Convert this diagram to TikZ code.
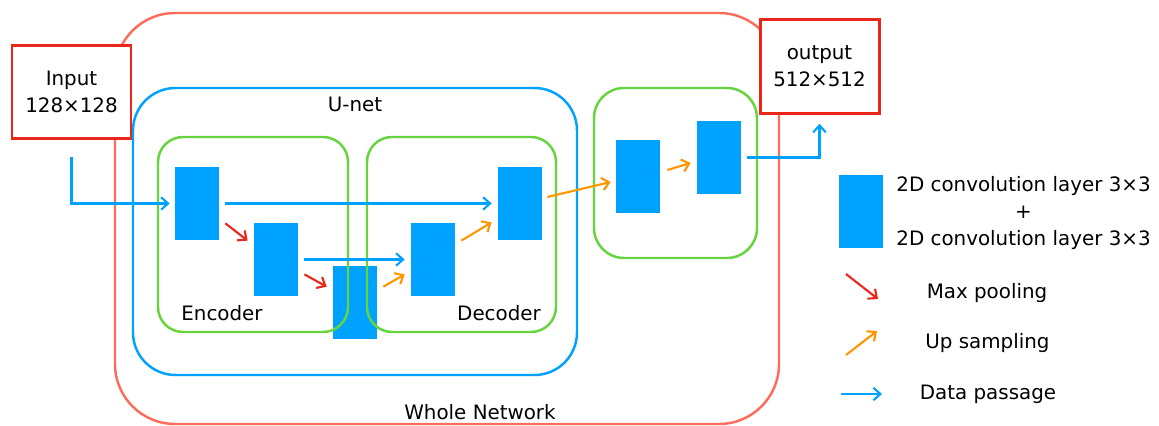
\documentclass[tikz,border=0pt]{standalone}
\usepackage{fontspec}
\setmainfont{DejaVu Sans}
\usetikzlibrary{arrows.meta,positioning,calc}
\definecolor{convblue}{RGB}{0,162,255}
\definecolor{netsalmon}{RGB}{255,108,92}
\definecolor{ioredc}{RGB}{234,38,26}
\definecolor{partgreen}{RGB}{102,212,60}
\definecolor{uporange}{RGB}{255,150,0}
\tikzset{
netwhole/.style={rectangle,rounded corners=1.2cm,draw=netsalmon,line width=1.4pt,minimum width=13.28cm,minimum height=8.22cm},
netunet/.style={rectangle,rounded corners=0.85cm,draw=convblue,line width=1.4pt,minimum width=8.88cm,minimum height=5.74cm},
netpart/.style={rectangle,rounded corners=0.5cm,draw=partgreen,line width=1.4pt},
iobox/.style={rectangle,draw=ioredc,fill=white,line width=1.7pt,align=center,minimum width=2.38cm,minimum height=1.87cm},
convblock/.style={rectangle,fill=convblue,inner sep=0pt,minimum width=0.88cm,minimum height=1.46cm},
netlabel/.style={inner sep=1pt,align=center},
dataarr/.style={-{Straight Barb[length=1.4mm,width=2.5mm]},draw=convblue,line width=1.2pt},
poolarr/.style={-{Straight Barb[length=1.4mm,width=2.5mm]},draw=ioredc,line width=1.2pt},
uparr/.style={-{Straight Barb[length=1.4mm,width=2.5mm]},draw=uporange,line width=1.2pt}
}

\begin{document}
\begin{tikzpicture}[
x=1cm,
y=1cm,
every node/.style={font=\fontsize{11.3}{15.3}\selectfont}
]
\useasboundingbox (0,0) rectangle (23.18,-8.52);
% containers
\node[netwhole] (whole) at (8.94,-4.37) {};
\node[netlabel] (wholelbl) at (9.60,-8.24) {Whole Network};
\node[netunet] (unet) at (7.10,-4.63) {};
\node[netlabel] (unetlbl) at (7.10,-2.08) {U-net};
% conv blocks
\node[convblock] (e1) at (3.94,-4.07) {};
\node[convblock] (e2) at (5.52,-5.19) {};
\node[convblock] (bn) at (7.10,-6.05) {};
\node[convblock] (d1) at (8.66,-5.19) {};
\node[convblock] (d2) at (10.40,-4.07) {};
\node[convblock] (o1) at (12.76,-3.53) {};
\node[convblock] (o2) at (14.38,-3.15) {};
% encoder / decoder / last stage
\node[netpart,minimum width=3.80cm,minimum height=3.90cm] (encoder) at (5.06,-4.69) {};
\node[netpart,minimum width=3.78cm,minimum height=3.90cm] (decoder) at (9.23,-4.69) {};
\node[netpart,rounded corners=0.6cm,minimum width=3.26cm,minimum height=3.40cm] (upstage) at (13.51,-3.46) {};
\node[netlabel] (enclbl) at (4.44,-6.26) {Encoder};
\node[netlabel] (declbl) at (9.98,-6.26) {Decoder};
% input / output
\node[iobox] (input) at (1.43,-1.84) {Input\\128×128};
\node[iobox] (output) at (16.39,-1.33) {output\\512×512};
% connectors
\draw[dataarr,shorten <=0.34cm,shorten >=0.1cm] (input.south) |- (e1.west);
\draw[dataarr,shorten <=0.12cm,shorten >=0.12cm] (e1.east) -- (d2.west);
\draw[dataarr,shorten <=0.12cm,shorten >=0.12cm] (e2.east) -- (d1.west);
\draw[poolarr] ($(e1.south east)+(0.12,0.34)$) -- ($(e2.north west)+(-0.12,-0.36)$);
\draw[poolarr] ($(e2.south east)+(0.12,0.44)$) -- ($(bn.north west)+(-0.12,-0.42)$);
\draw[uparr] ($(bn.north east)+(0.12,-0.42)$) -- ($(d1.south west)+(-0.12,0.44)$);
\draw[uparr] ($(d1.north east)+(0.12,-0.36)$) -- ($(d2.south west)+(-0.12,0.36)$);
\draw[uparr] ($(d2.east)+(0.10,0.13)$) -- ($(o1.west)+(-0.10,-0.11)$);
\draw[uparr] ($(o1.east)+(0.14,0.13)$) -- ($(o2.west)+(-0.12,-0.11)$);
\draw[dataarr,shorten <=0.12cm,shorten >=0.18cm] (o2.east) -| (output.south);
% legend
\node[convblock] (legblock) at (17.22,-4.23) {};
\node[netlabel] (legconv) at (20.47,-4.26) {2D convolution layer 3×3\\+\\2D convolution layer 3×3};
\coordinate (poolA) at (16.92,-5.48);
\coordinate (poolB) at (17.56,-5.98);
\coordinate (upA) at (16.92,-7.10);
\coordinate (upB) at (17.54,-6.62);
\coordinate (dataA) at (16.82,-7.88);
\coordinate (dataB) at (17.64,-7.88);
\draw[poolarr] (poolA) -- (poolB);
\draw[uparr] (upA) -- (upB);
\draw[dataarr] (dataA) -- (dataB);
\node[netlabel] (legpool) at (19.74,-5.86) {Max pooling};
\node[netlabel] (legup) at (19.75,-6.86) {Up sampling};
\node[netlabel] (legdata) at (19.76,-7.88) {Data passage};
\end{tikzpicture}
\end{document}
